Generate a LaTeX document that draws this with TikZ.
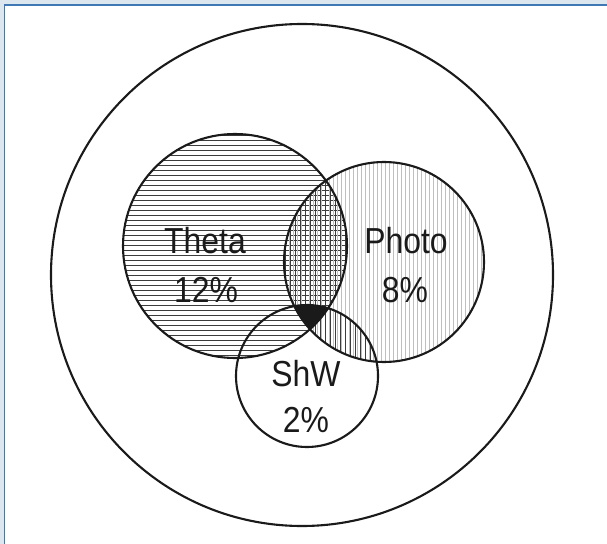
\documentclass[tikz,border=0pt]{standalone}
\usepackage{fontspec}
\setmainfont{Liberation Sans}
\definecolor{framebg}{HTML}{DCE6EE}
\definecolor{framebd}{HTML}{3F78B4}
\definecolor{ink}{HTML}{1A1A1A}
\newcommand{\tallword}[1]{\scalebox{0.97}[1.1]{#1}}
\tikzset{
  ring/.style={draw=ink, line width=2.1bp},
  hatch/.style={draw=ink!85, line width=0.9bp},
  faint/.style={draw=ink!28, line width=0.7bp},
  lbl/.style={text=ink, font=\fontsize{33}{36}\selectfont, inner sep=0pt}
}
\begin{document}
\begin{tikzpicture}[x=1bp,y=-1bp]
\useasboundingbox (0,0) rectangle (607,544);
\fill[framebg] (0,0) rectangle (607,544);
\fill[white] (4.5,5) rectangle (607,544);
\draw[framebd, line width=1.5bp] (4.5,544) -- (4.5,5) -- (607,5);

\coordinate (U) at (302,275);
\coordinate (T) at (235,246);
\coordinate (P) at (384,262);
\coordinate (S) at (307,376);

% Theta: horizontal lines
\begin{scope}
  \clip (T) circle (112);
  \foreach \y in {135,140,...,360} \draw[hatch] (118,\y) -- (350,\y);
\end{scope}
% Photo only: faint vertical lines
\begin{scope}
  \clip (P) circle (100);
  \foreach \x in {285,289,...,486} \draw[faint] (\x,160) -- (\x,364);
\end{scope}
% Theta and Photo: crosshatch (dark vertical lines)
\begin{scope}
  \clip (T) circle (112);
  \clip (P) circle (100);
  \foreach \x in {285,290,...,350} \draw[hatch] (\x,160) -- (\x,364);
\end{scope}
% Photo and ShW: dark vertical lines
\begin{scope}
  \clip (P) circle (100);
  \clip (S) circle (71);
  \foreach \x in {285,290,...,380} \draw[hatch] (\x,300) -- (\x,364);
\end{scope}
% Triple intersection: black
\begin{scope}
  \clip (T) circle (112);
  \clip (P) circle (100);
  \fill[ink] (S) circle (71);
\end{scope}

\draw[ring] (U) circle (251);
\draw[ring] (T) circle (112);
\draw[ring] (P) circle (100);
\draw[ring] (S) circle (71);

\node[lbl] (theta) at (205,241) {\tallword{Theta}};
\node[lbl] (thetap) at (206,290) {\tallword{12\%}};
\node[lbl] (photo) at (406,241) {\tallword{Photo}};
\node[lbl] (photop) at (405,290) {\tallword{8\%}};
\node[lbl] (shw) at (306,374) {\tallword{ShW}};
\node[lbl] (shwp) at (306,420) {\tallword{2\%}};
\end{tikzpicture}
\end{document}
